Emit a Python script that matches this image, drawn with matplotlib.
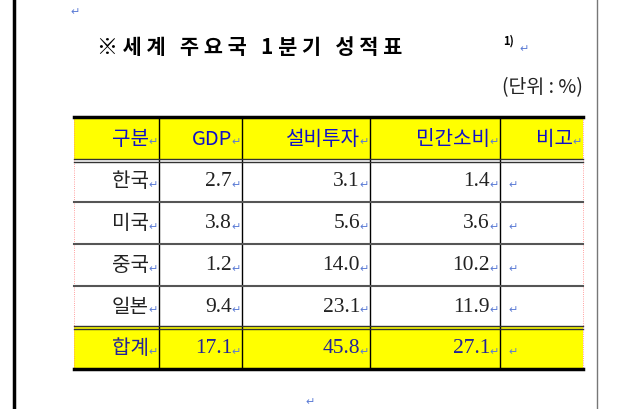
import matplotlib.pyplot as plt

plt.rcParams['font.family'] = ['Noto Sans CJK KR', 'DejaVu Sans']

title = '※세계  주요국  1분기  성적표'
unit = '(단위 : %)'
headers = ['구분', 'GDP', '설비투자', '민간소비', '비고']
countries = ['한국', '미국', '중국', '일본']
gdp = [2.7, 3.8, 1.2, 9.4]
invest = [3.1, 5.6, 14.0, 23.1]
consume = [1.4, 3.6, 10.2, 11.9]
total_label = '합계'
totals = [17.1, 45.8, 27.1]

cols = [74, 159, 242, 370, 500, 583]
rows = [118, 161, 203, 245, 287, 328, 370]
ret = dict(color='#5b7bd5', fontsize=8, family=['DejaVu Sans'])

fig = plt.figure(figsize=(6.2, 4.1), dpi=100)
ax = fig.add_axes([0, 0, 1, 1])
ax.set_xlim(0, 620)
ax.set_ylim(410, 0)
ax.axis('off')

# page edges
ax.plot([14, 14], [0, 410], color='black', lw=2.5)
ax.plot([597, 597], [0, 410], color='#777777', lw=1)
ax.text(70, 12, '↵', ha='left', va='center', **ret)
ax.text(310, 402, '↵', ha='center', va='center', **ret)

# spaced-out title
spaced = ' '.join(title.replace('  ', ' '))
ax.text(97, 47, spaced, ha='left', va='center', fontsize=15, fontweight='bold')
ax.text(503, 41, '1)', ha='left', va='center', fontsize=8, fontweight='bold')
ax.text(519, 49, '↵', ha='left', va='center', **ret)
ax.text(583, 88, unit, ha='right', va='center', fontsize=14, color='#222222')

# fills
ax.fill_between([cols[0], cols[-1]], rows[0], rows[1], color='#ffff00', lw=0)
ax.fill_between([cols[0], cols[-1]], rows[5], rows[6], color='#ffff00', lw=0)

# grid lines
for c in cols[1:-1]:
    ax.plot([c, c], [rows[0], rows[-1]], color='black', lw=1)
for c in (cols[0], cols[-1]):
    ax.plot([c, c], [rows[0], rows[-1]], color='#ff8080', lw=0.6, ls=':')
ax.plot([cols[0], cols[-1]], [rows[0], rows[0]], color='black', lw=2.5)
ax.plot([cols[0], cols[-1]], [rows[-1], rows[-1]], color='black', lw=2.5)
for r in (rows[1] - 1, rows[1] + 2, rows[5] - 1, rows[5] + 2):
    ax.plot([cols[0], cols[-1]], [r, r], color='#333333', lw=1)
for r in rows[2:5]:
    ax.plot([cols[0], cols[-1]], [r, r], color='#555555', lw=1.5)

blue = '#1010c8'
pad = 10
for i, h in enumerate(headers):
    ax.text(cols[i + 1] - pad, (rows[0] + rows[1]) / 2, h, ha='right', va='center',
            fontsize=14.5, color=blue, fontweight='medium')
    ax.text(cols[i + 1] - 1, (rows[0] + rows[1]) / 2 + 3, '↵', ha='right', va='center', **ret)

serif = ['Liberation Serif', 'DejaVu Serif']
for j, name in enumerate(countries):
    y = (rows[j + 1] + rows[j + 2]) / 2
    ax.text(cols[1] - pad, y, name, ha='right', va='center', fontsize=14.5, color='#222222')
    vals = [gdp[j], invest[j], consume[j]]
    for k, v in enumerate(vals):
        ax.text(cols[k + 2] - pad, y, f'{v:.1f}', ha='right', va='center', fontsize=15.5,
                color='#222222', family=serif)
    for k in range(1, 5):
        ax.text(cols[k] - 1, y + 3, '↵', ha='right', va='center', **ret)
    ax.text(cols[4] + 8, y + 3, '↵', ha='left', va='center', **ret)

y = (rows[5] + rows[6]) / 2
ax.text(cols[1] - pad, y, total_label, ha='right', va='center', fontsize=14.5, color='#222299')
for k, v in enumerate(totals):
    ax.text(cols[k + 2] - pad, y, f'{v:.1f}', ha='right', va='center', fontsize=15.5,
            color='#222299', family=serif)
for k in range(1, 5):
    ax.text(cols[k] - 1, y + 3, '↵', ha='right', va='center', **ret)
ax.text(cols[4] + 8, y + 3, '↵', ha='left', va='center', **ret)

fig.savefig('out.png', dpi=100)
